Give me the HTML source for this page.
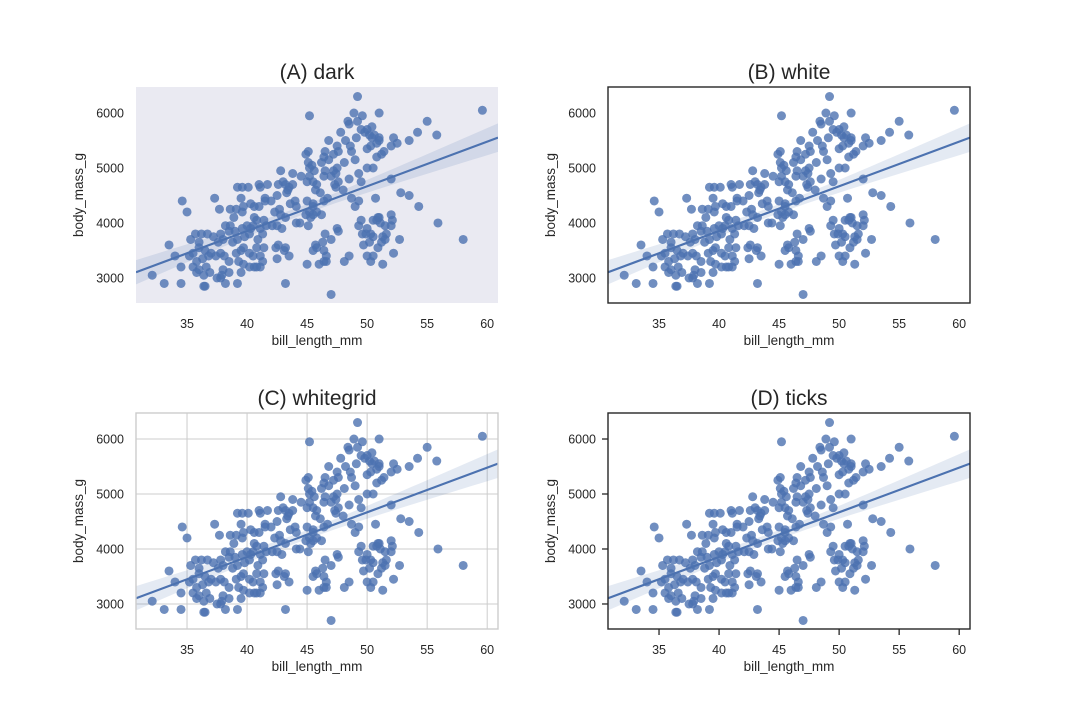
<!DOCTYPE html>
<html><head><meta charset="utf-8"><style>
html,body{margin:0;padding:0;background:#fff;}
svg{display:block;font-family:"Liberation Sans",sans-serif;}
</style></head><body>
<svg id="fig" width="1080" height="720" viewBox="0 0 1080 720" xmlns="http://www.w3.org/2000/svg"></svg>
<script>
const billLength=[32.1,33.1,34.5,33.5,34.6,35,34,34.5,36.5,36.4,37.5,37.8,38.2,39.2,39.5,43.2,47,49.2,45.2,51,59.6,55,55.8,54.2,53.5,52.2,52.5,52,51,48.9,49.6,48.4,48.5,49.2,49.5,50,50.4,49.8,50.2,50.6,50.4,51,50.8,50.8,51.2,51.4,50,50.3,47.8,47.5,48.2,48.7,48.6,46.8,49.1,49,48.1,47.6,47.2,46.5,46.4,46.8,46.2,45.1,44.9,45.1,45.4,45.2,45.6,45.2,44.5,45,45.5,45.8,46.5,46.4,47,47.4,47.5,47.2,47.6,47.4,47.3,48,48.5,49.3,50,50.5,49.5,48.7,49,49.3,45.7,46.1,46.4,46.7,45,45.5,45.2,45.5,45.8,46.2,45.5,45.1,44.1,43.6,44,43.3,43.5,43.2,43.8,42.8,42.6,43,43.4,43.8,42.5,42.7,42,41.5,41,41.1,41.7,41.5,41,40.6,40.8,40.3,40.6,39.6,40.1,39.2,39.5,39.1,39.6,39.7,38.6,38.9,37.7,37.3,38.6,38.2,37.8,38.5,39,39.6,40,40.3,39.8,39.2,38.8,38,37.2,37.6,36.7,36.2,35.7,35.3,36,35.5,36,36.5,37,36.8,36.3,35.8,35.2,35.5,35.8,36,36.4,36.6,36.9,37.4,37.8,38.1,38.5,38,38.5,37.9,39.1,39.5,39.7,40.2,40.5,39.3,39.7,40.6,40.2,40.8,41.1,41.3,41.1,40.8,41.4,40.9,41.3,40.2,40.5,41.1,41.6,42.1,41.4,42.3,42.8,42.5,43.2,42.4,42.6,42.5,43.1,43.5,44.1,44.9,45.3,47.5,47.6,47,46.5,46.3,45.8,45.7,45.5,46.4,46.6,46.4,45,46,46.6,48.1,48.5,49.3,49.5,50,49.6,49.9,50.3,50.5,50.2,49.7,50,50.5,50.3,50.9,51.2,51.3,51.5,51.6,51.5,52,52.1,52,51,50.8,50.5,50.7,52,51.3,52.2,52.7,52.8,53.5,54.3,55.9,58,50.9,51.1,42.9,44.4,43.2];
const bodyMass=[3050,2900,2900,3600,4400,4200,3400,3200,2850,2850,3000,3000,2900,2900,3100,2900,2700,6300,5950,6000,6050,5850,5600,5650,5500,5550,5450,5400,5500,6000,5950,5850,5800,5850,5700,5700,5750,5650,5600,5600,5550,5550,5450,5200,5250,5300,5350,5400,5650,5400,5500,5300,5400,5500,5550,5150,5100,5300,5250,5300,5200,5150,5100,5300,5250,5100,5050,5000,4950,4850,4850,4750,4750,4700,4950,4850,4850,4900,5000,4950,4750,4650,4700,4600,4800,4900,5000,5000,4750,4450,4300,4400,4600,4550,4400,4450,4400,4350,4200,4150,4200,4150,4300,3950,4000,4350,4400,4550,4650,4700,4900,4950,4700,4750,4600,4700,4500,4250,4400,4450,4700,4650,4700,4400,4300,4300,4050,4350,4100,4650,4650,4650,4450,4250,4200,4300,4250,4100,4250,4450,3950,3950,3800,3850,3850,3900,3950,3900,3750,3700,3650,3700,3750,3650,3800,3800,3800,3700,3650,3450,3550,3500,3450,3400,3350,3300,3400,3200,3100,3150,3050,3200,3100,3400,3450,3400,3300,3150,3100,3050,3450,3500,3550,3450,3400,3300,3250,3200,3200,3200,3200,3300,3400,3550,3550,3700,3800,3800,3950,3900,3950,3950,4050,4200,4150,3950,4100,3550,3600,3350,3500,3400,4300,4150,4100,3900,3850,3700,3800,3650,3550,3600,3500,3500,3400,3300,3250,3250,3300,3300,3400,3950,4050,3900,3800,3800,3800,3750,3650,3600,3400,3400,3300,3550,3650,3750,3700,3800,3950,3950,4050,4150,4100,4050,4050,4450,4800,3250,3450,3700,4550,4500,4300,4000,3700,4100,4000,3900,4000,3550];
const xTicks=[35,40,45,50,55,60];
const yTicks=[3000,4000,5000,6000];
const panelTitles=["(A) dark","(B) white","(C) whitegrid","(D) ticks"];
const styles=["dark","white","whitegrid","ticks"];

const NS="http://www.w3.org/2000/svg";
const svg=document.getElementById('fig');
function mk(tag,attrs,parent){const e=document.createElementNS(NS,tag);for(const k in attrs)e.setAttribute(k,attrs[k]);(parent||svg).appendChild(e);return e;}

// regression from data
const n=billLength.length;
const mx=billLength.reduce((a,b)=>a+b,0)/n, my=bodyMass.reduce((a,b)=>a+b,0)/n;
let sxx=0,sxy=0;for(let i=0;i<n;i++){sxx+=(billLength[i]-mx)**2;sxy+=(billLength[i]-mx)*(bodyMass[i]-my);}
const slope=sxy/sxx, icpt=my-slope*mx;
let sse=0;for(let i=0;i<n;i++){sse+=(bodyMass[i]-(icpt+slope*billLength[i]))**2;}
const se=Math.sqrt(sse/(n-2));

const XMIN=30.75,XMAX=60.9,YMIN=2545,YMAX=6473,W=362,H=216;
const origins=[[136,87],[608,87],[136,413],[608,413]];

styles.forEach((st,p)=>{
  const [ox,oy]=origins[p];
  const g=mk('g',{},svg);
  
  
  const xs=v=>ox+(v-XMIN)/(XMAX-XMIN)*W;
  const ys=v=>oy+H-(v-YMIN)/(YMAX-YMIN)*H;
  const bg=mk('rect',{x:ox,y:oy,width:W,height:H,fill:st==='dark'?'#eaeaf2':'#fff'},g);
  
  
  if(st==='whitegrid'){
    xTicks.forEach(t=>{const l=mk('line',{x1:xs(t),x2:xs(t),y1:oy,y2:oy+H,stroke:'#cccccc','stroke-width':1},g);});
    yTicks.forEach(t=>{const l=mk('line',{x1:ox,x2:ox+W,y1:ys(t),y2:ys(t),stroke:'#cccccc','stroke-width':1},g);});
  }
  // CI band
  const cp=mk('clipPath',{id:'clip'+p},g);mk('rect',{x:ox,y:oy,width:W,height:H},cp);
  const steps=60;let up=[],lo=[];
  for(let k=0;k<=steps;k++){const x=XMIN+(XMAX-XMIN)*k/steps;const yh=icpt+slope*x;const h=1.97*se*Math.sqrt(1/n+(x-mx)**2/sxx);up.push(xs(x)+','+ys(yh+h));lo.unshift(xs(x)+','+ys(yh-h));}
  const band=mk('polygon',{points:up.concat(lo).join(' '),fill:'#4c72b0','fill-opacity':0.15,'clip-path':'url(#clip'+p+')'},g);
  
  
  const pts=mk('g',{'clip-path':'url(#clip'+p+')'},g);
  
  
  for(let i=0;i<n;i++){
    const c=mk('circle',{cx:xs(billLength[i]),cy:ys(bodyMass[i]),r:4.5,fill:'#4c72b0','fill-opacity':0.8},pts);
    
    
  }
  const rl=mk('line',{x1:xs(XMIN),y1:ys(icpt+slope*XMIN),x2:xs(XMAX),y2:ys(icpt+slope*XMAX),stroke:'#4c72b0','stroke-width':2.2,'clip-path':'url(#clip'+p+')'},g);
  
  
  if(st==='white'||st==='ticks'){
    const f=mk('rect',{x:ox,y:oy,width:W,height:H,fill:'none',stroke:'#262626','stroke-width':1.4},g);
    
  } else if(st==='whitegrid'){
    const f=mk('rect',{x:ox,y:oy,width:W,height:H,fill:'none',stroke:'#cccccc','stroke-width':1.4},g);
    
  }
  const tickLen=st==='ticks'?6:0;
  xTicks.forEach(t=>{
    if(tickLen){const l=mk('line',{x1:xs(t),x2:xs(t),y1:oy+H,y2:oy+H+tickLen,stroke:'#262626','stroke-width':1.3},g);}
    const tx=mk('text',{x:xs(t),y:oy+H+25,'text-anchor':'middle','font-size':12.5,fill:'#262626'},g);
    tx.textContent=t;
  });
  yTicks.forEach(t=>{
    if(tickLen){const l=mk('line',{x1:ox-tickLen,x2:ox,y1:ys(t),y2:ys(t),stroke:'#262626','stroke-width':1.3},g);}
    const tx=mk('text',{x:ox-12,y:ys(t)+4.5,'text-anchor':'end','font-size':12.5,fill:'#262626'},g);
    tx.textContent=t;
  });
  const xl=mk('text',{x:ox+W/2,y:oy+H+42,'text-anchor':'middle','font-size':13.5,fill:'#262626'},g);
  xl.textContent='bill_length_mm';
  const yl=mk('text',{x:0,y:0,'text-anchor':'middle','font-size':13.5,fill:'#262626',transform:'translate('+(ox-53)+','+(oy+H/2)+') rotate(-90)'},g);
  yl.textContent='body_mass_g';
  const tt=mk('text',{x:ox+W/2,y:oy-8,'text-anchor':'middle','font-size':21,fill:'#262626'},g);
  tt.textContent=panelTitles[p];
});
</script>
</body></html>
